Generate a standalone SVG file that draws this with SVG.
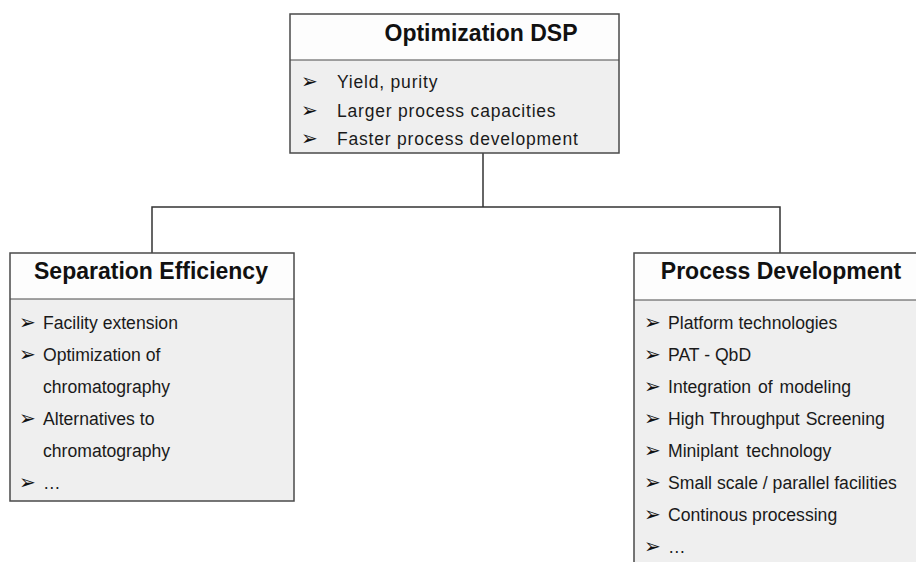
<svg xmlns="http://www.w3.org/2000/svg" width="916" height="562" viewBox="0 0 916 562">
<style>
.hdr{fill:#fdfdfd;stroke:none}
.body{fill:#efefef;stroke:none}
.frame{fill:none;stroke:#4a4a4a;stroke-width:1.5}
.div{stroke:#4a4a4a;stroke-width:1.2}
.title{font-family:"Liberation Sans",Arial,sans-serif;font-weight:bold;font-size:23px;fill:#111;text-anchor:middle}
.item{font-family:"Liberation Sans",Arial,sans-serif;font-size:17.6px;fill:#1a1a1a}
.itemTop{font-family:"Liberation Sans",Arial,sans-serif;font-size:17.5px;letter-spacing:0.8px;fill:#1a1a1a}
.bul{font-family:"DejaVu Sans",sans-serif;font-size:20px;font-weight:bold;fill:#111}
.conn{fill:none;stroke:#333;stroke-width:1.5}
</style>
<rect width="916" height="562" fill="#ffffff"/>
<g id="connectors">
<polyline class="conn" points="483,153 483,207"/>
<polyline class="conn" points="152,253 152,207 780,207 780,253"/>
</g>
<g id="optimization-dsp">
<rect class="hdr" x="290" y="14" width="329" height="46"/>
<rect class="body" x="290" y="60" width="329" height="93"/>
<line class="div" x1="290" y1="60" x2="619" y2="60"/>
<rect class="frame" x="290" y="14" width="329" height="139"/>
<text class="title" x="481" y="41">Optimization DSP</text>
<text class="bul" x="301" y="88">➢</text>
<text class="itemTop" x="337" y="88">Yield, purity</text>
<text class="bul" x="301" y="116.5">➢</text>
<text class="itemTop" x="337" y="116.5">Larger process capacities</text>
<text class="bul" x="301" y="145">➢</text>
<text class="itemTop" x="337" y="145">Faster process development</text>
</g>
<g id="separation-efficiency">
<rect class="hdr" x="10" y="253" width="284" height="46"/>
<rect class="body" x="10" y="299" width="284" height="202"/>
<line class="div" x1="10" y1="299" x2="294" y2="299"/>
<rect class="frame" x="10" y="253" width="284" height="248"/>
<text class="title" x="151" y="279">Separation Efficiency</text>
<text class="bul" x="19" y="329">➢</text>
<text class="item" x="43" y="329">Facility extension</text>
<text class="bul" x="19" y="361">➢</text>
<text class="item" x="43" y="361">Optimization of</text>
<text class="item" x="43" y="393">chromatography</text>
<text class="bul" x="19" y="425">➢</text>
<text class="item" x="43" y="425">Alternatives  to</text>
<text class="item" x="43" y="457">chromatography</text>
<text class="bul" x="19" y="489">➢</text>
<text class="item" x="43" y="489">…</text>
</g>
<g id="process-development">
<rect class="hdr" x="634" y="253" width="300" height="47"/>
<rect class="body" x="634" y="300" width="300" height="280"/>
<line class="div" x1="634" y1="300" x2="934" y2="300"/>
<rect class="frame" x="634" y="253" width="300" height="330"/>
<text class="title" x="781" y="279">Process Development</text>
<text class="bul" x="644" y="329">➢</text>
<text class="item" x="668" y="329">Platform technologies</text>
<text class="bul" x="644" y="361">➢</text>
<text class="item" x="668" y="361">PAT - QbD</text>
<text class="bul" x="644" y="393">➢</text>
<text class="item" x="668" y="393" word-spacing="2">Integration of modeling</text>
<text class="bul" x="644" y="425">➢</text>
<text class="item" x="668" y="425" word-spacing="1">High Throughput Screening</text>
<text class="bul" x="644" y="457">➢</text>
<text class="item" x="668" y="457" word-spacing="3">Miniplant technology</text>
<text class="bul" x="644" y="489">➢</text>
<text class="item" x="668" y="489">Small scale / parallel facilities</text>
<text class="bul" x="644" y="521">➢</text>
<text class="item" x="668" y="521">Continous processing</text>
<text class="bul" x="644" y="553">➢</text>
<text class="item" x="668" y="553">…</text>
</g>
</svg>
